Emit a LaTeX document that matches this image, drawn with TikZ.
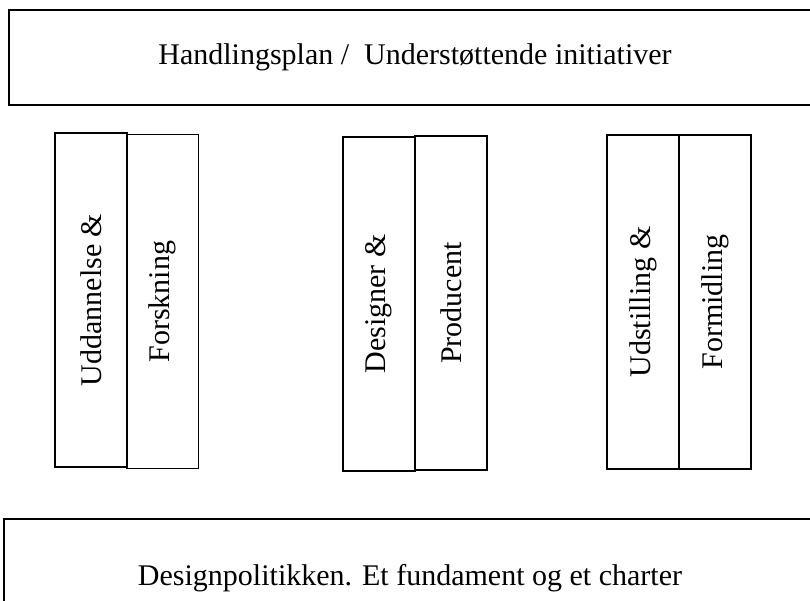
\documentclass[tikz,border=0pt]{standalone}
\usepackage{fontspec}
\setmainfont{Liberation Serif}
\usepackage{tikz}

\newcommand{\bigtext}{\fontsize{30}{35}\selectfont}

\begin{document}
\begin{tikzpicture}[x=1pt,y=-1pt,
    bar/.style={draw,line width=2pt,minimum width=812pt,font=\bigtext},
    pillar/.style={draw,line width=1.3pt,rotate=90,minimum width=334pt,
        minimum height=72pt,inner sep=0pt,font=\bigtext}]
    \useasboundingbox (0,0) rectangle (810,601);

    % top bar
    \node [bar,minimum height=95pt] (plan) at (415,57.5)
        {Handlingsplan /~ Understøttende initiativer};

    % pillars
    \node [pillar] (udd) at (91,300) {Uddannelse \&};
    \node [pillar] (forsk) at (162.5,301.5) {Forskning};

    \node [pillar] (design) at (379,304) {Designer \&};
    \node [pillar] (prod) at (451,303) {Producent};

    \node [pillar] (udst) at (643,302) {Udstilling \&};
    \node [pillar] (formid) at (715,302) {Formidling};

    % bottom bar
    \node [bar,minimum height=118pt] (politik) at (410,578)
        {Designpolitikken. Et fundament og et charter};
\end{tikzpicture}
\end{document}
